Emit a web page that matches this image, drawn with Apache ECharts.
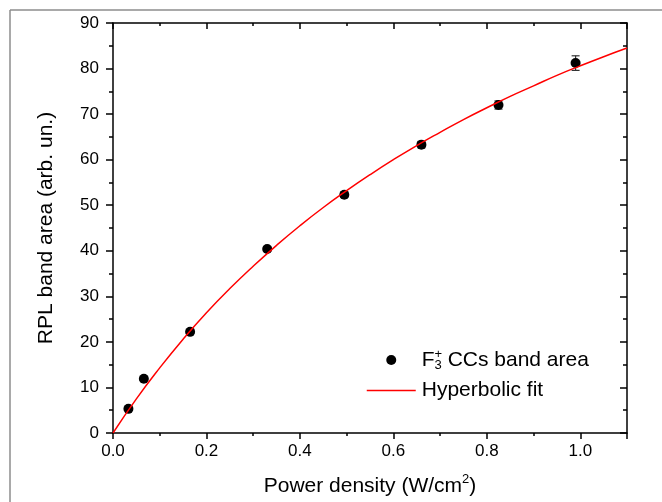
<!DOCTYPE html>
<html>
<head>
<meta charset="utf-8">
<script src="https://cdn.jsdelivr.net/npm/echarts@6/dist/echarts.min.js"></script>
<style>
html,body{margin:0;padding:0;background:#fff;}
#chart{width:662px;height:502px;}
</style>
</head>
<body>
<div id="chart"></div>
<script>
// Measured data points (F3+ CCs band area)
var pointX = [0.033, 0.066, 0.165, 0.33, 0.495, 0.66, 0.825, 0.99];
var pointY = [5.3, 11.9, 22.2, 40.4, 52.3, 63.3, 72.0, 81.2];
var pointErr = [0.3, 0.3, 0.4, 0.5, 0.6, 0.7, 0.9, 1.6];

// Hyperbolic fit curve
var fitX = [0, 0.05, 0.1, 0.15, 0.2, 0.25, 0.3, 0.35, 0.4, 0.45, 0.5, 0.55, 0.6, 0.65, 0.7, 0.75, 0.8, 0.85, 0.9, 0.95, 1.0, 1.05, 1.1];
var fitY = [0, 7.5, 14.3, 20.6, 26.4, 31.7, 36.6, 41.2, 45.5, 49.5, 53.2, 56.7, 60.0, 63.1, 66.0, 68.8, 71.4, 73.9, 76.2, 78.5, 80.6, 82.6, 84.5];

var xTicks = ['0.0', '0.2', '0.4', '0.6', '0.8', '1.0'];
var yTicks = ['0', '10', '20', '30', '40', '50', '60', '70', '80', '90'];

var seriesNames = ['F3+ CCs band area', 'Hyperbolic fit'];

var FONT = '"Liberation Sans", Arial, sans-serif';

var scatterData = pointX.map(function (x, i) { return [x, pointY[i]]; });
var errData = pointX.map(function (x, i) { return [x, pointY[i] - pointErr[i], pointY[i] + pointErr[i]]; });
var fitData = fitX.map(function (x, i) { return [x, fitY[i]]; });

var chart = echarts.init(document.getElementById('chart'), null, {renderer: 'canvas'});

var axisLineStyle = {color: '#000', width: 1.5};

chart.setOption({
  animation: false,
  backgroundColor: '#fff',
  textStyle: {fontFamily: FONT},
  grid: {left: 113, right: 35, top: 23, bottom: 67, containLabel: false},
  graphic: [
    {type: 'line', shape: {x1: 10, y1: 10, x2: 662, y2: 10}, style: {stroke: '#8c8c8c', lineWidth: 1.5}, silent: true},
    {type: 'line', shape: {x1: 10, y1: 10, x2: 10, y2: 502}, style: {stroke: '#8c8c8c', lineWidth: 1.5}, silent: true}
  ],
  legend: {
    orient: 'vertical',
    left: 361,
    top: 343,
    itemWidth: 49,
    itemHeight: 10,
    itemGap: 8,
    data: [
      {name: seriesNames[0], icon: 'circle', itemStyle: {color: '#000', opacity: 1}},
      {name: seriesNames[1], itemStyle: {opacity: 0}, lineStyle: {color: '#ff0000', width: 1.5, opacity: 1}}
    ],
    formatter: function (name) {
      if (name === seriesNames[0]) {
        return '{n|F}{sup|+}{sub|3}{n| CCs band area}';
      }
      return '{n|' + name + '}';
    },
    textStyle: {
      fontFamily: FONT,
      fontSize: 21,
      color: '#000',
      padding: [0, 0, 0, 1],
      rich: {
        n: {fontFamily: FONT, fontSize: 21, color: '#000', lineHeight: 24, verticalAlign: 'middle'},
        sup: {fontFamily: FONT, fontSize: 13, color: '#000', width: 0, lineHeight: 24, verticalAlign: 'top', padding: [0, 0, 0, 0]},
        sub: {fontFamily: FONT, fontSize: 13, color: '#000', lineHeight: 24, verticalAlign: 'bottom', padding: [8, 0, 0, 0]}
      }
    }
  },
  xAxis: [
    {
      type: 'value', min: 0, max: 1.1, interval: 0.2, position: 'bottom',
      name: '{a|Power density (W/cm}{s|2}{a|)}',
      nameLocation: 'middle', nameGap: 40,
      nameTextStyle: {
        fontFamily: FONT, fontSize: 21, color: '#000',
        rich: {
          a: {fontFamily: FONT, fontSize: 21, color: '#000', verticalAlign: 'bottom', lineHeight: 24},
          s: {fontFamily: FONT, fontSize: 13, color: '#000', verticalAlign: 'top', lineHeight: 24}
        }
      },
      axisLine: {show: true, onZero: false, lineStyle: axisLineStyle},
      axisTick: {show: true, inside: false, length: 6, lineStyle: {color: '#000', width: 1.5}},
      minorTick: {show: true, splitNumber: 2, length: 3, lineStyle: {color: '#000', width: 1.5}},
      splitLine: {show: false},
      axisLabel: {
        show: true, margin: 10, fontFamily: FONT, fontSize: 17, color: '#000',
        showMaxLabel: false,
        formatter: function (v) {
          var idx = Math.round(v / 0.2);
          return (Math.abs(v - idx * 0.2) < 1e-6 && idx < xTicks.length) ? xTicks[idx] : '';
        }
      }
    },
    {
      type: 'value', min: 0, max: 1.1, interval: 0.2, position: 'top',
      axisLine: {show: true, onZero: false, lineStyle: axisLineStyle},
      axisTick: {show: true, inside: true, length: 6, lineStyle: {color: '#000', width: 1.5}},
      minorTick: {show: true, splitNumber: 2, length: 3, lineStyle: {color: '#000', width: 1.5}},
      splitLine: {show: false},
      axisLabel: {show: false}
    }
  ],
  yAxis: [
    {
      type: 'value', min: 0, max: 90, interval: 10, position: 'left',
      name: 'RPL band area (arb. un.)',
      nameLocation: 'middle', nameGap: 56,
      nameTextStyle: {fontFamily: FONT, fontSize: 21, color: '#000'},
      axisLine: {show: true, onZero: false, lineStyle: axisLineStyle},
      axisTick: {show: true, inside: false, length: 7, lineStyle: {color: '#000', width: 1.5}},
      minorTick: {show: true, splitNumber: 2, length: 4, lineStyle: {color: '#000', width: 1.5}},
      splitLine: {show: false},
      axisLabel: {
        show: true, margin: 14, fontFamily: FONT, fontSize: 17, color: '#000',
        formatter: function (v) {
          var idx = Math.round(v / 10);
          return yTicks[idx] !== undefined ? yTicks[idx] : '';
        }
      }
    },
    {
      type: 'value', min: 0, max: 90, interval: 10, position: 'right',
      axisLine: {show: true, onZero: false, lineStyle: axisLineStyle},
      axisTick: {show: true, inside: true, length: 7, lineStyle: {color: '#000', width: 1.5}},
      minorTick: {show: true, splitNumber: 2, length: 4, lineStyle: {color: '#000', width: 1.5}},
      splitLine: {show: false},
      axisLabel: {show: false}
    }
  ],
  series: [
    {
      type: 'custom',
      name: 'errors',
      xAxisIndex: 0, yAxisIndex: 0,
      data: errData,
      z: 1,
      renderItem: function (params, api) {
        var x = api.value(0);
        var lo = api.coord([x, api.value(1)]);
        var hi = api.coord([x, api.value(2)]);
        var hw = 4;
        var st = {stroke: '#333', lineWidth: 1.2};
        return {
          type: 'group',
          children: [
            {type: 'line', shape: {x1: lo[0], y1: lo[1], x2: hi[0], y2: hi[1]}, style: st},
            {type: 'line', shape: {x1: hi[0] - hw, y1: hi[1], x2: hi[0] + hw, y2: hi[1]}, style: st},
            {type: 'line', shape: {x1: lo[0] - hw, y1: lo[1], x2: lo[0] + hw, y2: lo[1]}, style: st}
          ]
        };
      },
      encode: {x: 0, y: [1, 2]},
      silent: true
    },
    {
      type: 'scatter',
      name: seriesNames[0],
      xAxisIndex: 0, yAxisIndex: 0,
      data: scatterData,
      symbol: 'circle',
      symbolSize: 10,
      itemStyle: {color: '#000', opacity: 1},
      z: 2
    },
    {
      type: 'line',
      name: seriesNames[1],
      xAxisIndex: 0, yAxisIndex: 0,
      data: fitData,
      smooth: true,
      symbol: 'none',
      showSymbol: false,
      lineStyle: {color: '#ff0000', width: 1.5},
      itemStyle: {color: '#ff0000'},
      z: 3
    }
  ]
});
</script>
</body>
</html>
